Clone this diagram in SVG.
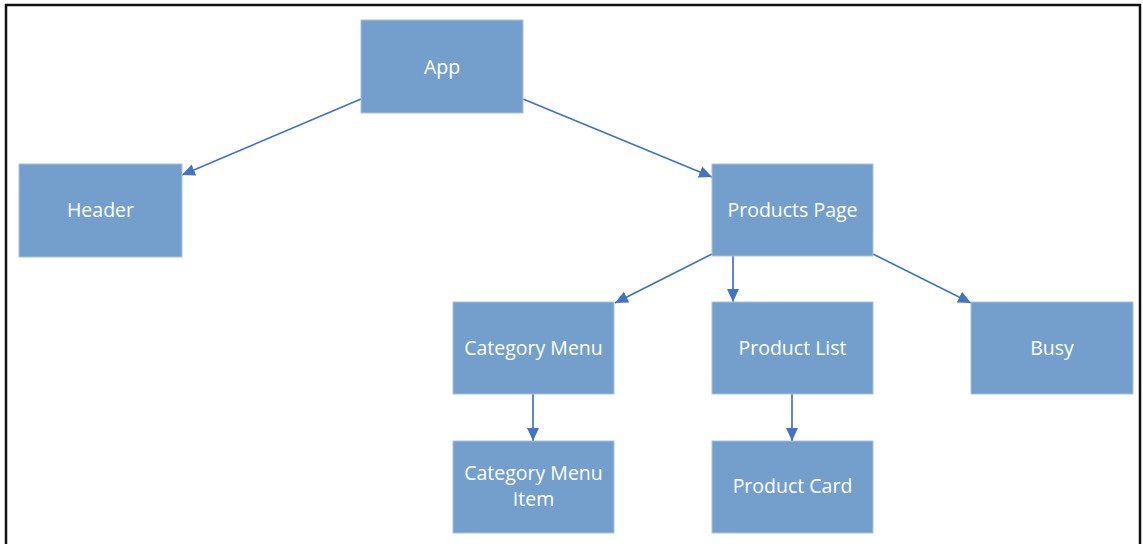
<svg xmlns="http://www.w3.org/2000/svg" width="1143" height="544" viewBox="0 0 1143 544">
<defs>
<style>
.node rect{fill:#749fcc;stroke:#a9c2de;stroke-width:1}
.node text{fill:#ffffff;font-family:"Open Sans","Liberation Sans",sans-serif;font-size:19.5px;text-anchor:middle}
.edge{stroke:#4472c4;stroke-width:1.7;fill:none;marker-end:url(#arr)}
</style>
<marker id="arr" markerUnits="userSpaceOnUse" markerWidth="13" markerHeight="13" viewBox="0 0 13 13" refX="13" refY="6.5" orient="auto">
<path d="M0,0.5 L13,6.5 L0,12.5 Z" fill="#4472c4"/>
</marker>
</defs>
<rect width="1143" height="544" fill="#ffffff"/>
<path d="M6,544 V5 H1140 V544" fill="none" stroke="#111111" stroke-width="2.5"/>
<g id="connectors">
<line class="edge" x1="361" y1="99" x2="182" y2="175"/>
<line class="edge" x1="523" y1="99" x2="712" y2="177"/>
<line class="edge" x1="712" y1="254" x2="615" y2="303"/>
<line class="edge" x1="733" y1="256" x2="733" y2="302"/>
<line class="edge" x1="873" y1="254" x2="971" y2="303"/>
<line class="edge" x1="533" y1="394" x2="533" y2="441"/>
<line class="edge" x1="792" y1="394" x2="792" y2="441"/>
</g>
<g id="app" class="node"><rect x="361" y="20" width="162" height="93"/><text x="442" y="73.5">App</text></g>
<g id="header" class="node"><rect x="19" y="164" width="163" height="93"/><text x="100.5" y="217">Header</text></g>
<g id="products-page" class="node"><rect x="712" y="164" width="161" height="92"/><text x="792.5" y="217">Products Page</text></g>
<g id="category-menu" class="node"><rect x="453" y="302" width="161" height="92"/><text x="533.5" y="355">Category Menu</text></g>
<g id="product-list" class="node"><rect x="712" y="302" width="161" height="92"/><text x="792.5" y="355">Product List</text></g>
<g id="busy" class="node"><rect x="971" y="302" width="162" height="92"/><text x="1052" y="355">Busy</text></g>
<g id="category-menu-item" class="node"><rect x="453" y="441" width="161" height="92"/><text x="533.5" y="480">Category Menu</text><text x="533.5" y="506">Item</text></g>
<g id="product-card" class="node"><rect x="712" y="441" width="161" height="92"/><text x="792.5" y="493">Product Card</text></g>
</svg>
